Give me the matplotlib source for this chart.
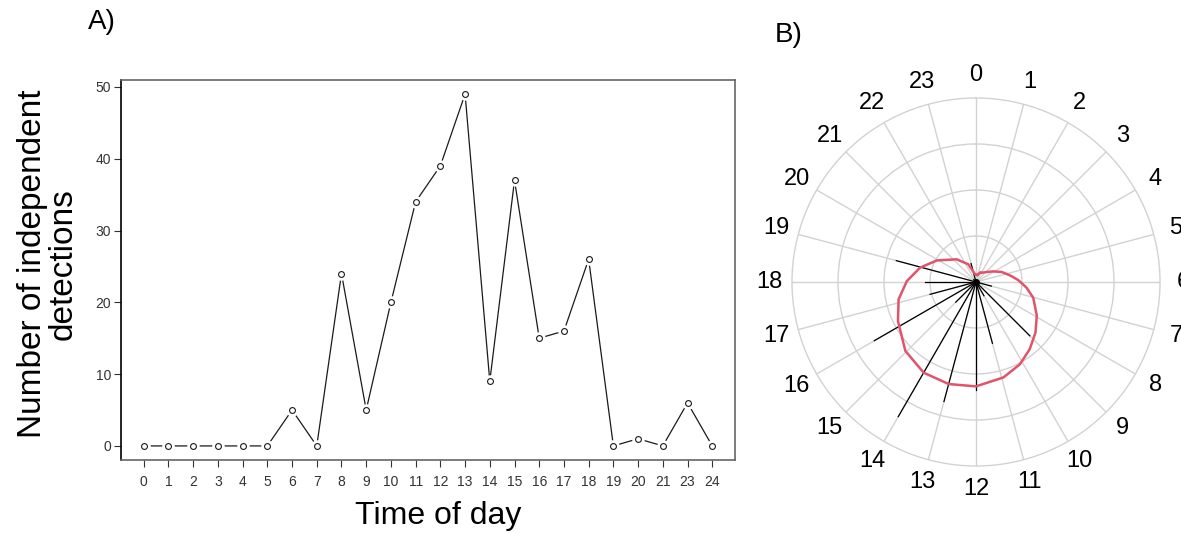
import numpy as np
import matplotlib
matplotlib.use("Agg")
import matplotlib.pyplot as plt

plt.rcParams['font.family'] = ['Liberation Sans', 'DejaVu Sans']

# ---------------- data ----------------
hour_labels = ['0', '1', '2', '3', '4', '5', '6', '7', '8', '9', '10', '11',
               '12', '13', '14', '15', '16', '17', '18', '19', '20', '21', '23', '24']
detections = [0, 0, 0, 0, 0, 0, 5, 0, 24, 5, 20, 34, 39, 49, 9, 37, 15, 16, 26, 0, 1, 0, 6, 0]

# panel B: radial lines (hour direction, count) and circular density curve
rose_hours = [1, 2, 3, 4, 5, 6, 7, 8, 9, 10, 11, 12, 13, 14, 15, 16, 17, 18, 19, 20, 21, 22, 23, 24]
rose_counts = detections
dens_hours = [0.69, 1.7, 2.07, 3.12, 3.9, 4.58, 5.26, 5.82, 6.42, 7.02, 7.93, 8.69, 9.42,
              10.13, 10.93, 12.0, 13.0, 14.0, 15.05, 16.23, 17.16, 18.05, 18.96, 19.92,
              21.3, 22.43, 23.2, 23.7, 24.69]
dens_radius = [2.3, 3.4, 3.4, 4.6, 6.4, 8.7, 10.9, 13.3, 16.0, 18.7, 21.9, 24.6, 27.1,
               29.4, 31.3, 32.9, 33.3, 33.0, 31.1, 27.5, 25.0, 21.8, 18.2, 14.1,
               9.4, 6.1, 3.0, 2.3, 2.3]
clock_labels = [str(h) for h in range(24)]

W, H = 1181, 533
fig = plt.figure(figsize=(W / 100, H / 100), dpi=100)

# ---------------- panel A ----------------
axA = fig.add_axes([121 / W, (H - 460) / H, (735 - 121) / W, (460 - 80) / H])
x = np.arange(len(detections))
axA.plot(x, detections, color='#1a1a1a', lw=0.9, zorder=2)
axA.plot(x, detections, ls='none', marker='o', ms=9, mfc='white', mec='none', zorder=3)
axA.plot(x, detections, ls='none', marker='o', ms=4.2, mfc='white', mec='#1a1a1a',
         mew=0.8, zorder=4)
axA.set_xlim(-0.92, len(detections) - 1 + 0.92)
axA.set_ylim(-1.96, 50.96)
axA.set_xticks(x)
axA.set_xticklabels(hour_labels)
axA.set_yticks([0, 10, 20, 30, 40, 50])
axA.tick_params(axis='both', direction='out', length=5, width=0.8, color='#333333',
                labelsize=10, labelcolor='#333333')
axA.tick_params(axis='x', pad=6)
axA.tick_params(axis='y', pad=2)
for s in ['top', 'right', 'bottom']:
    axA.spines[s].set_color('#666666')
    axA.spines[s].set_linewidth(1.2)
axA.spines['left'].set_color('black')
axA.spines['left'].set_linewidth(1.2)

fig.text(48 / W, 1 - 264 / H, 'Number of independent\ndetections', rotation=90,
         ha='center', va='center', fontsize=24, linespacing=1.0, multialignment='center')
fig.text(438 / W, 1 - 516 / H, 'Time of day', ha='center', va='center', fontsize=23)
fig.text(88 / W, 1 - 22 / H, 'A)', ha='left', va='center', fontsize=20)
fig.text(775 / W, 1 - 35 / H, 'B)', ha='left', va='center', fontsize=20)

# ---------------- panel B ----------------
R = 184
cx, cy = 976, 282
axB = fig.add_axes([(cx - R) / W, (H - cy - R) / H, 2 * R / W, 2 * R / H], projection='polar')
axB.set_theta_zero_location('N')
axB.set_theta_direction(-1)
rmax = 58.0
axB.set_ylim(0, rmax)
axB.set_xticks(np.deg2rad(np.arange(24) * 15))
axB.set_xticklabels([])
axB.set_yticks([rmax / 4, rmax / 2, 3 * rmax / 4])
axB.set_yticklabels([])
axB.grid(True, color='#d2d2d2', lw=1.0)
axB.spines['polar'].set_color('#d2d2d2')
axB.spines['polar'].set_linewidth(1.0)
axB.patch.set_alpha(0)

for h, c in zip(rose_hours, rose_counts):
    th = np.deg2rad(h * 15)
    axB.plot([th, th], [0, c], color='black', lw=0.9, zorder=3)
axB.plot([0], [0], marker='o', ms=4, color='black', zorder=4)

th_d = np.deg2rad(np.array(dens_hours) * 15)
axB.plot(th_d, dens_radius, color='#DF536B', lw=1.8, zorder=5)

for i, lab in enumerate(clock_labels):
    axB.text(np.deg2rad(i * 15), rmax * 207 / 184, lab, ha='center', va='center',
             fontsize=17, clip_on=False)

fig.savefig('out.png', dpi=100)
